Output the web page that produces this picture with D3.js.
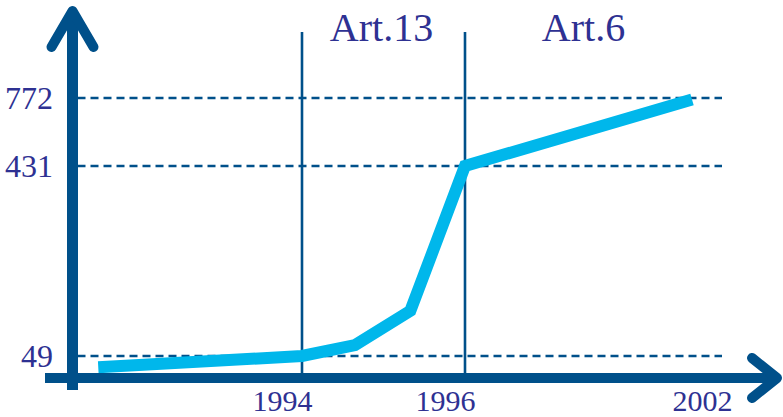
<!DOCTYPE html>
<html>
<head>
<meta charset="utf-8">
<script src="https://cdn.jsdelivr.net/npm/d3@7"></script>
<style>
  body { margin: 0; background: #fff; }
  svg { display: block; }
  text { font-family: "Liberation Serif", "Times New Roman", serif; fill: #2e3192; }
</style>
</head>
<body>
<div id="grafico"></div>
<script>
// datos (escala esquematica, no lineal)
var years = [1991.5, 1994, 1994.65, 1995.33, 1996, 2001.3];
var values = [26, 49, 71, 140, 431, 765];
var yTicks = [49, 431, 772];
var xTicks = [1994, 1996, 2002];
var periods = ["Art.13", "Art.6"];
var periodBounds = [[1994, 1996], [1996, 2002]];

var width = 783, height = 417;
var axisColor = "#00508a";
var lineColor = "#00b7eb";

var svg = d3.select("#grafico").append("svg")
  .attr("width", width)
  .attr("height", height);

// escalas por tramos, el dibujo original no es proporcional
var x = d3.scaleLinear()
  .domain([1994, 1996, 2002])
  .range([302, 465, 722]);

var y = d3.scaleLinear()
  .domain([0, 49, 431, 772])
  .range([380, 356, 166, 98]);

var x0 = 72.5, y0 = 378;

// lineas punteadas horizontales
svg.selectAll(".grid")
  .data(yTicks)
  .enter().append("line")
  .attr("class", "grid")
  .attr("x1", x0 + 5)
  .attr("x2", x(2002))
  .attr("y1", d => y(d))
  .attr("y2", d => y(d))
  .attr("stroke", axisColor)
  .attr("stroke-width", 2.5)
  .attr("stroke-dasharray", "8,5");

// lineas verticales de los periodos
svg.selectAll(".vline")
  .data([1994, 1996])
  .enter().append("line")
  .attr("class", "vline")
  .attr("x1", d => x(d))
  .attr("x2", d => x(d))
  .attr("y1", 32)
  .attr("y2", y0)
  .attr("stroke", axisColor)
  .attr("stroke-width", 2.6);

// titulos de los periodos
svg.selectAll(".periodo")
  .data(periods)
  .enter().append("text")
  .attr("class", "periodo")
  .attr("x", (d, i) => (x(periodBounds[i][0]) + x(periodBounds[i][1])) / 2 - (i == 0 ? 2 : 10))
  .attr("y", 41)
  .attr("text-anchor", "middle")
  .style("font-size", "40px")
  .text(d => d);

// la curva
var line = d3.line()
  .x(d => x(d[0]))
  .y(d => y(d[1]));

svg.append("path")
  .datum(years.map((d, i) => [d, values[i]]))
  .attr("d", line)
  .attr("fill", "none")
  .attr("stroke", lineColor)
  .attr("stroke-width", 12)
  .attr("stroke-linejoin", "miter");

// ejes con flecha
svg.append("line")
  .attr("x1", x0).attr("x2", x0)
  .attr("y1", 12).attr("y2", 390)
  .attr("stroke", axisColor)
  .attr("stroke-width", 11);

svg.append("path")
  .attr("d", "M" + (x0 - 21) + ",47 L" + x0 + ",11 L" + (x0 + 21) + ",47")
  .attr("fill", "none")
  .attr("stroke", axisColor)
  .attr("stroke-width", 10)
  .attr("stroke-linecap", "round")
  .attr("stroke-linejoin", "round");

svg.append("line")
  .attr("x1", 45).attr("x2", 776)
  .attr("y1", y0).attr("y2", y0)
  .attr("stroke", axisColor)
  .attr("stroke-width", 10);

svg.append("path")
  .attr("d", "M752,358 L777," + y0 + " L752,398")
  .attr("fill", "none")
  .attr("stroke", axisColor)
  .attr("stroke-width", 10)
  .attr("stroke-linecap", "round")
  .attr("stroke-linejoin", "round");

// etiquetas del eje Y
var yAxis = d3.axisLeft(y).tickValues(yTicks).tickSize(0).tickPadding(0);
var yAxisG = svg.append("g")
  .attr("transform", "translate(53,0)")
  .call(yAxis);
yAxisG.select(".domain").remove();
yAxisG.selectAll("text")
  .attr("dy", "10px")
  .style("font-size", "32px")
  .style("font-family", "Liberation Serif")
  .attr("fill", "#2e3192");

// etiquetas del eje X
var xAxis = d3.axisBottom(x).tickValues(xTicks).tickSize(0).tickPadding(0).tickFormat(d3.format("d"));
var xAxisG = svg.append("g")
  .attr("transform", "translate(0,0)")
  .call(xAxis);
xAxisG.select(".domain").remove();
xAxisG.selectAll("text")
  .attr("y", 411)
  .attr("dy", 0)
  .attr("dx", "-20px")
  .style("font-size", "30px")
  .style("font-family", "Liberation Serif")
  .attr("fill", "#2e3192");
</script>
</body>
</html>
